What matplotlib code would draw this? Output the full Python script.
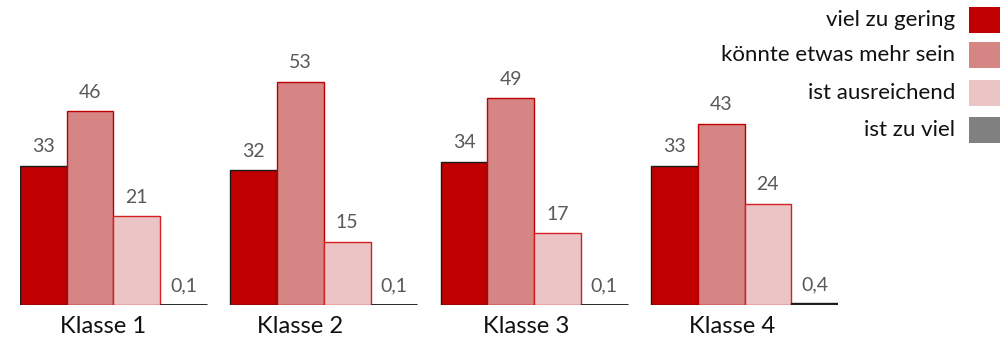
import matplotlib
matplotlib.use("Agg")
import matplotlib.pyplot as plt
from matplotlib.patches import Rectangle

plt.rcParams['font.family'] = ['Lato', 'DejaVu Sans']

# Daten
klassen = ["Klasse 1", "Klasse 2", "Klasse 3", "Klasse 4"]
serien = ["viel zu gering", "könnte etwas mehr sein", "ist ausreichend", "ist zu viel"]
viel_zu_gering = [33, 32, 34, 33]
etwas_mehr = [46, 53, 49, 43]
ausreichend = [21, 15, 17, 24]
zu_viel = [0.1, 0.1, 0.1, 0.4]

werte = [viel_zu_gering, etwas_mehr, ausreichend, zu_viel]
farben = ["#C00000", "#D48584", "#EBC5C5", "#808080"]
kanten = ["#1a1a1a", "#C00000", "#D42020", "#1a1a1a"]

# Abstand der Gruppen in Balkenbreiten
gruppen_abstand = 4.5
label_versatz = [-0.22, -0.5, -0.18, -0.27]

fig = plt.figure(figsize=(10.07, 3.39), dpi=100)
ax = fig.add_axes([20 / 1007, 34 / 339, 818 / 1007, 253 / 339])

for s, (vals, fc, ec) in enumerate(zip(werte, farben, kanten)):
    xs = [g * gruppen_abstand + s for g in range(len(klassen))]
    bars = ax.bar(xs, vals, width=1.0, color=fc, edgecolor=ec, linewidth=1.0)
    for b, v in zip(bars, vals):
        txt = str(v).replace(".", ",") if v < 1 else str(int(v))
        ax.annotate(txt, (b.get_x() + b.get_width() / 2, v), xytext=(0, 7.5),
                    textcoords="offset points", ha="center", va="bottom",
                    fontsize=14, color="#595959")

# Grundlinie unter dem kleinen Balken
for g in range(len(klassen)):
    x0 = g * gruppen_abstand + 2.5
    ax.plot([x0, x0 + 1], [0, 0], color="#1a1a1a", lw=2, solid_capstyle="butt")

for g, name in enumerate(klassen):
    xc = g * gruppen_abstand + 1.5 + label_versatz[g]
    ax.text(xc, -5.0, name, ha="center", va="center", fontsize=17.2, color="#111111")

ax.set_xlim(-0.5, 17)
ax.set_ylim(0, 60)
ax.axis("off")

# Legende rechts
leg_y = [20, 55, 93, 130]
for name, fc, y in zip(serien, farben, leg_y):
    fig.text(955 / 1007, 1 - y / 339, name, ha="right", va="center",
             fontsize=16, color="#111111")
    fig.patches.append(Rectangle((969 / 1007, 1 - (y + 13) / 339), 31 / 1007, 26 / 339,
                                 transform=fig.transFigure, facecolor=fc,
                                 edgecolor="none"))

fig.savefig("out.png", dpi=100)
